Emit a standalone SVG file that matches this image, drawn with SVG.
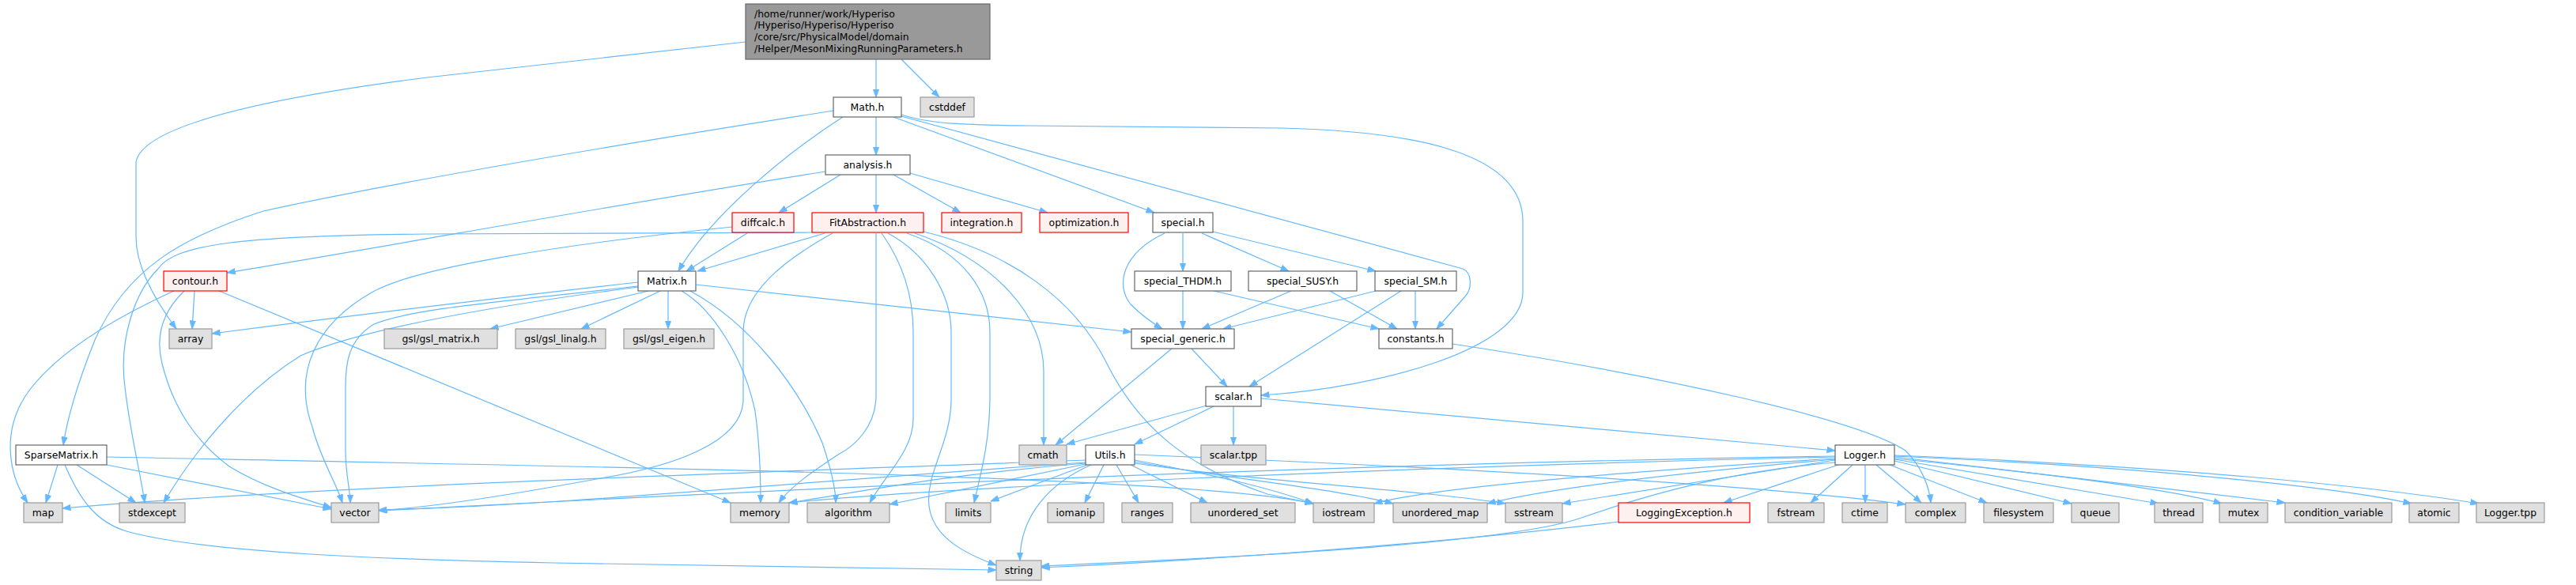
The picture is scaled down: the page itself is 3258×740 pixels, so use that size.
<svg xmlns="http://www.w3.org/2000/svg" width="3258" height="740" viewBox="0 0 3258 740">
<style>
text{font-family:"DejaVu Sans","Liberation Sans",sans-serif;font-size:12.4px;fill:#000;text-anchor:middle}
.n rect{fill:#fff;stroke:#666;stroke-width:1.2}
.x rect{fill:#e0e0e0;stroke:#999;stroke-width:1.2}
.r rect{fill:#fff0f0;stroke:#f00;stroke-width:1.2}
.root rect{fill:#999;stroke:#666;stroke-width:1.2}
.root text{text-anchor:start}
#edges path{fill:none;stroke:#63b8ff;stroke-width:1.2;marker-end:url(#ah)}
</style>
<defs>
<marker id="ah" viewBox="0 0 11 8" refX="10.5" refY="4" markerWidth="11" markerHeight="8" markerUnits="userSpaceOnUse" orient="auto">
<path d="M0,0 L11,4 L0,8 z" fill="#63b8ff" stroke="#63b8ff" stroke-width="0.5"/>
</marker>
</defs>
<rect width="3258" height="740" fill="#fff"/>
<g id="edges">
<path d="M1108,75 L1108,123"/>
<path d="M1140,75 L1188,123"/>
<path d="M943,53 L540,98 C330,125 180,160 172,205 L172,300 C172,340 200,385 223,416"/>
<path d="M1108,148 L1108,196"/>
<path d="M1066,148 C1000,190 900,270 858,343"/>
<path d="M1054,140 C800,180 500,230 333,267 C230,300 160,340 120,430 C100,480 85,530 80,563"/>
<path d="M1130,148 L1460,269"/>
<path d="M1140,147 L1850,340 C1862,345 1862,365 1853,375 L1817,416"/>
<path d="M1140,145 C1180,158 1230,158 1300,159 L1620,162 C1780,166 1926,190 1926,280 L1926,370 C1926,440 1750,490 1595,500"/>
<path d="M1108,221 L1108,269"/>
<path d="M1130,221 L1215,269"/>
<path d="M1151,219 L1325,269"/>
<path d="M1063,221 L985,269"/>
<path d="M1044,217 C800,255 500,310 287,345"/>
<path d="M945,295 L868,343"/>
<path d="M926,287 C700,310 520,340 470,370 C400,410 370,470 395,540 C405,580 425,610 433,636"/>
<path d="M1043,295 L882,343"/>
<path d="M1027,294 L540,296 C300,298 220,310 200,340 C170,370 150,430 158,490 C165,550 178,600 183,636"/>
<path d="M1053,295 C990,330 940,370 940,420 L940,505 C940,560 850,590 760,605 C650,625 560,640 479,646"/>
<path d="M1108,295 L1108,500 C1108,540 1080,565 1060,575 C1030,595 1000,615 985,636"/>
<path d="M1115,295 C1140,330 1155,370 1155,420 L1155,530 C1155,570 1120,600 1100,636"/>
<path d="M1123,295 C1170,320 1203,370 1203,420 L1203,505 C1203,560 1170,600 1175,640 C1180,680 1220,700 1260,715"/>
<path d="M1147,295 C1220,320 1252,370 1252,420 L1252,500 C1252,560 1240,600 1232,636"/>
<path d="M1157,295 C1260,330 1320,400 1320,470 L1320,563"/>
<path d="M1168,293 C1280,320 1360,380 1400,460 C1440,540 1500,590 1603,625 L1661,637"/>
<path d="M807,357 C600,380 400,405 268,422"/>
<path d="M820,368 L620,416"/>
<path d="M835,368 L735,416"/>
<path d="M845,368 L845,416"/>
<path d="M862,368 C900,390 940,450 955,520 C962,570 962,610 962,636"/>
<path d="M873,368 C950,410 1010,490 1040,560 C1050,590 1057,615 1057,636"/>
<path d="M880,360 L1431,420"/>
<path d="M807,362 C650,380 520,390 473,410 C440,430 437,460 437,490 L437,570 C437,600 443,620 443,636"/>
<path d="M807,363 C600,390 450,420 380,450 C300,500 240,580 207,636"/>
<path d="M220,368 C150,400 80,440 40,490 C0,540 10,600 35,636"/>
<path d="M233,368 C210,390 195,420 205,460 C220,520 250,560 290,590 C330,615 380,630 419,642"/>
<path d="M246,368 L243,416"/>
<path d="M277,368 L924,636"/>
<path d="M73,588 L58,636"/>
<path d="M97,588 L172,636"/>
<path d="M135,588 L419,644"/>
<path d="M82,588 C100,630 120,660 160,672 C260,700 500,708 700,712 L1260,721"/>
<path d="M135,578 C700,590 1500,600 1661,637"/>
<path d="M1373,582 C900,600 400,615 79,643"/>
<path d="M1373,585 C1000,610 700,640 479,645"/>
<path d="M1373,586 C1200,600 1100,620 998,636"/>
<path d="M1373,587 L1125,638"/>
<path d="M1375,588 L1253,634"/>
<path d="M1396,588 L1372,636"/>
<path d="M1412,588 L1440,636"/>
<path d="M1430,588 L1527,636"/>
<path d="M1380,588 C1330,610 1290,650 1290,709"/>
<path d="M1435,582 C1530,600 1600,615 1661,637"/>
<path d="M1435,584 C1550,605 1700,620 1762,637"/>
<path d="M1435,586 C1600,610 1800,620 1904,637"/>
<path d="M1435,575 C1800,590 2200,610 2410,638"/>
<path d="M1526,513 L1349,562"/>
<path d="M1535,514 L1435,562"/>
<path d="M1560,514 L1560,563"/>
<path d="M1595,504 L2321,570"/>
<path d="M1482,441 L1335,563"/>
<path d="M1507,441 L1552,489"/>
<path d="M1473,295 C1420,320 1410,360 1430,385 C1445,400 1460,410 1470,416"/>
<path d="M1496,295 L1496,343"/>
<path d="M1520,295 L1630,343"/>
<path d="M1534,293 L1740,343"/>
<path d="M1496,368 L1496,416"/>
<path d="M1535,368 L1744,416"/>
<path d="M1633,368 L1520,416"/>
<path d="M1682,368 L1767,416"/>
<path d="M1740,368 L1547,416"/>
<path d="M1790,368 L1790,416"/>
<path d="M1772,368 L1580,489"/>
<path d="M1837,435 C2100,475 2350,530 2410,570 C2430,590 2440,615 2442,636"/>
<path d="M2047,660 C1800,690 1500,710 1317,718"/>
<path d="M2325,588 L2180,636"/>
<path d="M2343,588 L2290,636"/>
<path d="M2359,588 L2359,636"/>
<path d="M2373,588 L2430,636"/>
<path d="M2390,588 L2513,636"/>
<path d="M2396,583 L2620,637"/>
<path d="M2396,581 L2730,637"/>
<path d="M2396,580 C2600,600 2750,620 2810,637"/>
<path d="M2396,578 L2890,636"/>
<path d="M2396,577 C2700,590 2950,615 3050,637"/>
<path d="M2396,576 C2750,590 3000,615 3135,637"/>
<path d="M2321,585 C2200,595 2100,620 2000,655 C1900,690 1500,708 1317,716"/>
<path d="M2321,582 L1976,637"/>
<path d="M2321,581 C2100,600 1950,620 1881,637"/>
<path d="M2321,580 C2000,600 1800,620 1738,637"/>
<path d="M2321,578 C1800,590 1200,615 998,636"/>
<path d="M2321,577 C1500,590 800,630 479,646"/>
</g>
<g id="root" class="root"><rect x="943" y="5" width="309" height="70"/>
<text x="954" y="21.5">/home/runner/work/Hyperiso</text>
<text x="954" y="36.3">/Hyperiso/Hyperiso/Hyperiso</text>
<text x="954" y="51.1">/core/src/PhysicalModel/domain</text>
<text x="954" y="65.9">/Helper/MesonMixingRunningParameters.h</text></g>
<g id="Math" class="n"><rect x="1054" y="123" width="86" height="25"/><text x="1097" y="140">Math.h</text></g>
<g id="cstddef" class="x"><rect x="1164" y="123" width="68" height="25"/><text x="1198" y="140">cstddef</text></g>
<g id="analysis" class="n"><rect x="1044" y="196" width="107" height="25"/><text x="1097.5" y="213">analysis.h</text></g>
<g id="diffcalc" class="r"><rect x="926" y="269" width="78" height="25"/><text x="965" y="286">diffcalc.h</text></g>
<g id="FitAbstraction" class="r"><rect x="1027" y="269" width="141" height="25"/><text x="1097.5" y="286">FitAbstraction.h</text></g>
<g id="integration" class="r"><rect x="1191" y="269" width="101" height="25"/><text x="1241.5" y="286">integration.h</text></g>
<g id="optimization" class="r"><rect x="1315" y="269" width="112" height="25"/><text x="1371" y="286">optimization.h</text></g>
<g id="special" class="n"><rect x="1458" y="269" width="76" height="25"/><text x="1496" y="286">special.h</text></g>
<g id="contour" class="r"><rect x="207" y="343" width="80" height="25"/><text x="247" y="360">contour.h</text></g>
<g id="Matrix" class="n"><rect x="807" y="343" width="73" height="25"/><text x="843.5" y="360">Matrix.h</text></g>
<g id="special_THDM" class="n"><rect x="1435" y="343" width="122" height="25"/><text x="1496" y="360">special_THDM.h</text></g>
<g id="special_SUSY" class="n"><rect x="1579" y="343" width="137" height="25"/><text x="1647.5" y="360">special_SUSY.h</text></g>
<g id="special_SM" class="n"><rect x="1739" y="343" width="103" height="25"/><text x="1790.5" y="360">special_SM.h</text></g>
<g id="array" class="x"><rect x="214" y="416" width="54" height="25"/><text x="241" y="433">array</text></g>
<g id="gsl_matrix" class="x"><rect x="486" y="416" width="143" height="25"/><text x="557.5" y="433">gsl/gsl_matrix.h</text></g>
<g id="gsl_linalg" class="x"><rect x="652" y="416" width="114" height="25"/><text x="709" y="433">gsl/gsl_linalg.h</text></g>
<g id="gsl_eigen" class="x"><rect x="789" y="416" width="114" height="25"/><text x="846" y="433">gsl/gsl_eigen.h</text></g>
<g id="special_generic" class="n"><rect x="1431" y="416" width="130" height="25"/><text x="1496" y="433">special_generic.h</text></g>
<g id="constants" class="n"><rect x="1744" y="416" width="93" height="25"/><text x="1790.5" y="433">constants.h</text></g>
<g id="scalar" class="n"><rect x="1525" y="489" width="70" height="25"/><text x="1560" y="506">scalar.h</text></g>
<g id="SparseMatrix" class="n"><rect x="20" y="563" width="115" height="25"/><text x="77.5" y="580">SparseMatrix.h</text></g>
<g id="cmath" class="x"><rect x="1289" y="563" width="60" height="25"/><text x="1319" y="580">cmath</text></g>
<g id="Utils" class="n"><rect x="1373" y="563" width="62" height="25"/><text x="1404" y="580">Utils.h</text></g>
<g id="scalar_tpp" class="x"><rect x="1519" y="563" width="82" height="25"/><text x="1560" y="580">scalar.tpp</text></g>
<g id="Logger" class="n"><rect x="2321" y="563" width="75" height="25"/><text x="2358.5" y="580">Logger.h</text></g>
<g id="map" class="x"><rect x="30" y="636" width="49" height="25"/><text x="54.5" y="653">map</text></g>
<g id="stdexcept" class="x"><rect x="151" y="636" width="83" height="25"/><text x="192.5" y="653">stdexcept</text></g>
<g id="vector" class="x"><rect x="419" y="636" width="60" height="25"/><text x="449" y="653">vector</text></g>
<g id="memory" class="x"><rect x="924" y="636" width="74" height="25"/><text x="961" y="653">memory</text></g>
<g id="algorithm" class="x"><rect x="1021" y="636" width="104" height="25"/><text x="1073" y="653">algorithm</text></g>
<g id="limits" class="x"><rect x="1196" y="636" width="57" height="25"/><text x="1224.5" y="653">limits</text></g>
<g id="iomanip" class="x"><rect x="1325" y="636" width="71" height="25"/><text x="1360.5" y="653">iomanip</text></g>
<g id="ranges" class="x"><rect x="1419" y="636" width="64" height="25"/><text x="1451" y="653">ranges</text></g>
<g id="unordered_set" class="x"><rect x="1506" y="636" width="132" height="25"/><text x="1572" y="653">unordered_set</text></g>
<g id="iostream" class="x"><rect x="1661" y="636" width="77" height="25"/><text x="1699.5" y="653">iostream</text></g>
<g id="unordered_map" class="x"><rect x="1762" y="636" width="119" height="25"/><text x="1821.5" y="653">unordered_map</text></g>
<g id="sstream" class="x"><rect x="1904" y="636" width="72" height="25"/><text x="1940" y="653">sstream</text></g>
<g id="LoggingException" class="r"><rect x="2047" y="636" width="166" height="25"/><text x="2130" y="653">LoggingException.h</text></g>
<g id="fstream" class="x"><rect x="2236" y="636" width="71" height="25"/><text x="2271.5" y="653">fstream</text></g>
<g id="ctime" class="x"><rect x="2330" y="636" width="57" height="25"/><text x="2358.5" y="653">ctime</text></g>
<g id="complex" class="x"><rect x="2410" y="636" width="76" height="25"/><text x="2448" y="653">complex</text></g>
<g id="filesystem" class="x"><rect x="2509" y="636" width="88" height="25"/><text x="2553" y="653">filesystem</text></g>
<g id="queue" class="x"><rect x="2620" y="636" width="60" height="25"/><text x="2650" y="653">queue</text></g>
<g id="thread" class="x"><rect x="2725" y="636" width="61" height="25"/><text x="2755.5" y="653">thread</text></g>
<g id="mutex" class="x"><rect x="2807" y="636" width="61" height="25"/><text x="2837.5" y="653">mutex</text></g>
<g id="condition_variable" class="x"><rect x="2890" y="636" width="135" height="25"/><text x="2957.5" y="653">condition_variable</text></g>
<g id="atomic" class="x"><rect x="3047" y="636" width="63" height="25"/><text x="3078.5" y="653">atomic</text></g>
<g id="Logger_tpp" class="x"><rect x="3132" y="636" width="86" height="25"/><text x="3175" y="653">Logger.tpp</text></g>
<g id="string" class="x"><rect x="1260" y="709" width="57" height="25"/><text x="1288.5" y="726">string</text></g>
</svg>
